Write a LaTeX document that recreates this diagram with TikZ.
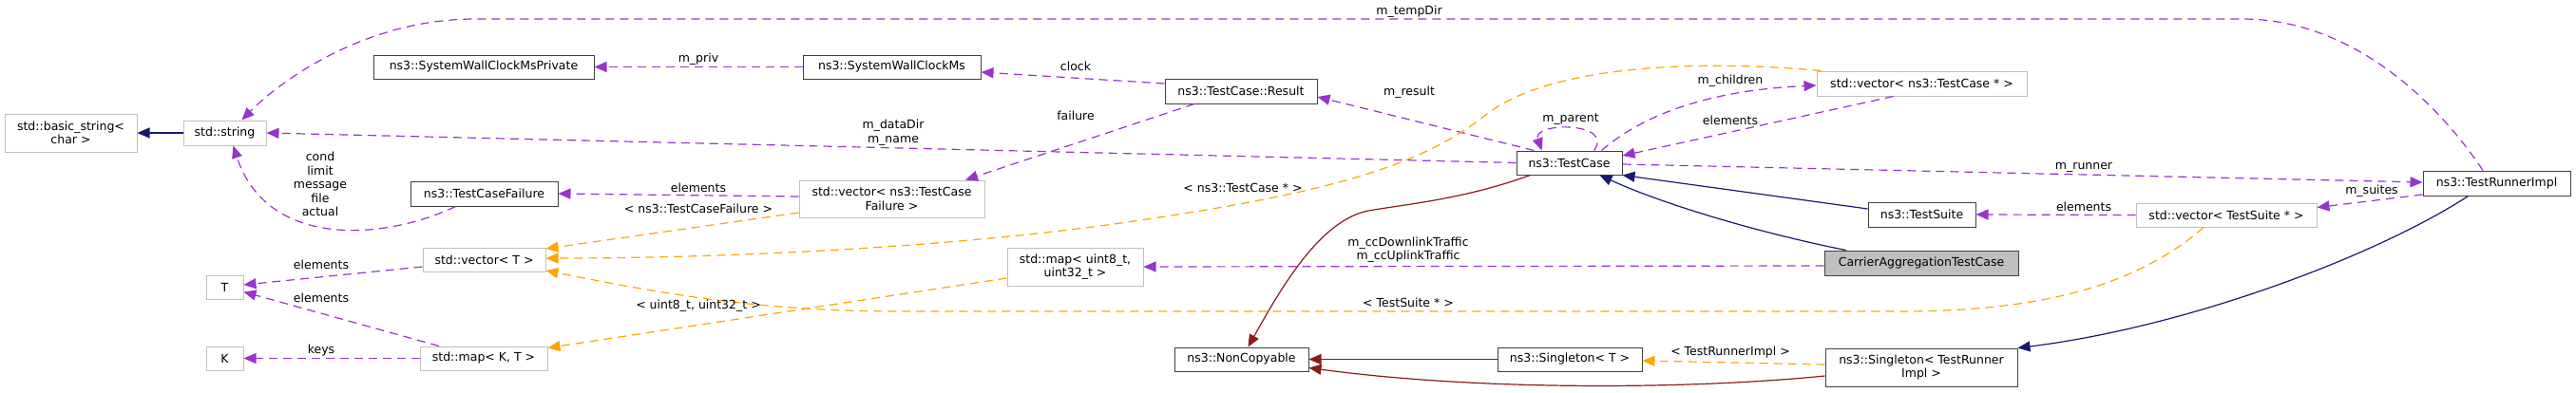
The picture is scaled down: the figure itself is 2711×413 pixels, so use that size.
\documentclass[tikz,border=0pt]{standalone}
\usepackage{fontspec}
\setmainfont{DejaVu Sans}
\usetikzlibrary{arrows.meta}
\definecolor{useclr}{HTML}{9A32CD}
\definecolor{tplclr}{HTML}{FFA500}
\definecolor{pubclr}{HTML}{191970}
\definecolor{privclr}{HTML}{8B1A1A}
\definecolor{boxgray}{HTML}{BFBFBF}
\definecolor{boxline}{HTML}{404040}
\tikzset{
  cls/.style={draw=boxline, line width=1pt, inner sep=0pt, align=center,
    font=\fontsize{12.5}{14.5}\selectfont},
  ext/.style={cls, draw=boxgray},
  cur/.style={cls, fill=boxgray},
  lbl/.style={inner sep=0pt, align=center, font=\fontsize{12.5}{14.5}\selectfont},
  usage/.style={draw=useclr, line width=1.2pt, dash pattern=on 9pt off 6pt,
    -{Triangle[length=13pt,width=11pt]}},
  tmpl/.style={usage, draw=tplclr},
  pub/.style={draw=pubclr, line width=1.2pt, -{Triangle[length=13pt,width=11pt]}},
  priv/.style={pub, draw=privclr},
}
\begin{document}
\begin{tikzpicture}[x=1pt, y=-1pt]
   \useasboundingbox (0,0) rectangle (2711,413);
   % classes
   \node (bstr)  [ext, minimum width=139pt, minimum height=40pt] at (74.5,140) {std::basic\_string<\\char >};
   \node (str)   [ext, minimum width=87pt, minimum height=26pt] at (236.5,140) {std::string};
   \node (swcp)  [cls, minimum width=232pt, minimum height=25pt] at (509,70.5) {ns3::SystemWallClockMsPrivate};
   \node (tcf)   [cls, minimum width=155pt, minimum height=26pt] at (509.5,204) {ns3::TestCaseFailure};
   \node (vecT)  [ext, minimum width=129pt, minimum height=25pt] at (509.5,273.5) {std::vector< T >};
   \node (T)     [ext, minimum width=39pt, minimum height=25pt] at (236.5,302.5) {T};
   \node (K)     [ext, minimum width=39pt, minimum height=25pt] at (236.5,377.5) {K};
   \node (mapKT) [ext, minimum width=134pt, minimum height=25pt] at (509,377.5) {std::map< K, T >};
   \node (swc)   [cls, minimum width=187pt, minimum height=25pt] at (938.5,70.5) {ns3::SystemWallClockMs};
   \node (vtcf)  [ext, minimum width=195pt, minimum height=39pt] at (938.5,209.5) {std::vector< ns3::TestCase\\Failure >};
   \node (res)   [cls, minimum width=160pt, minimum height=26pt] at (1306,96) {ns3::TestCase::Result};
   \node (mapU)  [ext, minimum width=143pt, minimum height=40pt] at (1131.5,281) {std::map< uint8\_t,\\uint32\_t >};
   \node (nc)    [cls, minimum width=141pt, minimum height=25pt] at (1306.5,378.5) {ns3::NonCopyable};
   \node (tc)    [cls, minimum width=111pt, minimum height=25pt] at (1651.5,171.5) {ns3::TestCase};
   \node (sgT)   [cls, minimum width=152pt, minimum height=25pt] at (1652,378.5) {ns3::Singleton< T >};
   \node (vtc)   [ext, minimum width=221pt, minimum height=26pt] at (2022.5,88) {std::vector< ns3::TestCase * >};
   \node (ts)    [cls, minimum width=113pt, minimum height=26pt] at (2022.5,226) {ns3::TestSuite};
   \node (catc)  [cur, minimum width=204pt, minimum height=26pt] at (2022,277) {CarrierAggregationTestCase};
   \node (sgR)   [cls, minimum width=202pt, minimum height=40pt] at (2022,387) {ns3::Singleton< TestRunner\\Impl >};
   \node (tri)   [cls, minimum width=155pt, minimum height=26pt] at (2627.5,193) {ns3::TestRunnerImpl};
   \node (vts)   [ext, minimum width=190pt, minimum height=25pt] at (2343,226.5) {std::vector< TestSuite * >};
   % inheritance
   \draw [pub] (str.west) -- (bstr.east);
   \draw [pub] ([yshift=6pt]ts.west) -- (tc.south east);
   \draw [pub] ([xshift=23pt]catc.north west) .. controls (1850,245) and (1750,215) .. ([xshift=32pt]tc.south);
   \draw [pub] ([xshift=-30pt]tri.south) .. controls (2500,270) and (2300,345) .. (sgR.north east);
   \draw [priv] ([xshift=-41pt]tc.south) .. controls (1540,210) and (1480,215) .. (1440,222)
      .. controls (1390,232) and (1350,300) .. ([xshift=7pt]nc.north);
   \draw [priv] (sgT.west) -- (nc.east);
   \draw [priv] ([yshift=-9pt]sgR.west) .. controls (1780,410) and (1560,412) .. ([yshift=-9pt]nc.east);
   % members
   \draw [usage] ([xshift=-14.5pt]tri.north) .. controls (2560,100) and (2470,20) .. (2360,20)
      -- (500,20) .. controls (380,20) and (290,90) .. ([xshift=18pt]str.north);
   \draw [usage] (swc.west) -- (swcp.east);
   \draw [usage] ([yshift=8pt]res.west) -- ([yshift=-5.5pt]swc.east);
   \draw [usage] ([xshift=-49pt]res.south) -- ([xshift=77.5pt]vtcf.north);
   \draw [usage] (tc.west) -- (str.east);
   \draw [usage] ([yshift=2.5pt]vtcf.west) -- (tcf.east);
   \draw [usage] ([xshift=-30pt]tcf.south) .. controls (400,255) and (280,260) .. ([xshift=9pt]str.south);
   \draw [usage] ([yshift=-7.5pt]vecT.west) -- ([yshift=2.5pt]T.east);
   \draw [usage] ([xshift=-47pt]mapKT.north) -- ([yshift=-5pt]T.east);
   \draw [usage] (mapKT.west) -- (K.east);
   \draw [usage] ([xshift=-37pt]tc.north) -- ([yshift=-6pt]res.east);
   \draw [usage] ([xshift=26pt]tc.north) .. controls (1700,128) and (1612,128) .. ([xshift=-29pt]tc.north);
   \draw [usage] ([xshift=34pt]tc.north) .. controls (1730,120) and (1800,95) .. ([yshift=-2pt]vtc.west);
   \draw [usage] ([xshift=-30pt]vtc.south) -- ([yshift=7.5pt]tc.east);
   \draw [usage] ([yshift=-1.5pt]tc.east) -- ([yshift=1pt]tri.west);
   \draw [usage] ([yshift=-12pt]tri.west) -- ([yshift=8pt]vts.east);
   \draw [usage] (vts.west) -- (ts.east);
   \draw [usage] ([yshift=-3pt]catc.west) -- (mapU.east);
   % templates
   \draw [tmpl] ([yshift=-14.5pt]vtcf.west) -- ([yshift=11.5pt]vecT.east);
   \draw [tmpl] ([xshift=5pt]vtc.north west) .. controls (1780,62) and (1630,70) .. (1565,120)
      .. controls (1490,180) and (1380,205) .. (1200,232)
      .. controls (1000,262) and (750,272) .. ([yshift=1.5pt]vecT.east);
   \draw [tmpl] ([xshift=-24pt]vts.south) .. controls (2250,300) and (2150,328) .. (2000,328)
      -- (950,328) .. controls (800,328) and (700,310) .. ([yshift=-11.5pt]vecT.east);
   \draw [tmpl] ([yshift=-12pt]mapU.west) -- ([yshift=11pt]mapKT.east);
   \draw [tmpl] ([yshift=3pt]sgR.west) -- ([yshift=-1.5pt]sgT.east);
   % labels
   \node (lTempDir)  [lbl] at (1483,12) {m\_tempDir};
   \node (lPriv)     [lbl] at (735,62) {m\_priv};
   \node (lClock)    [lbl] at (1132,70) {clock};
   \node (lFailure)  [lbl] at (1132,122) {failure};
   \node (lDataDir)  [lbl] at (940,139.5) {m\_dataDir\\m\_name};
   \node (lCond)     [lbl] at (337,194) {cond\\limit\\message\\file\\actual};
   \node (lElemTcf)  [lbl] at (735,198) {elements};
   \node (lTplTcf)   [lbl] at (735,220) {< ns3::TestCaseFailure >};
   \node (lTplTc)    [lbl] at (1308,198) {< ns3::TestCase * >};
   \node (lTplU)     [lbl] at (735,322) {< uint8\_t, uint32\_t >};
   \node (lElemVecT) [lbl] at (338,279) {elements};
   \node (lElemMap)  [lbl] at (338,314) {elements};
   \node (lKeys)     [lbl] at (338,369) {keys};
   \node (lResult)   [lbl] at (1483,97) {m\_result};
   \node (lParent)   [lbl] at (1653,126) {m\_parent};
   \node (lChildren) [lbl] at (1821,85) {m\_children};
   \node (lElemTc)   [lbl] at (1821,127) {elements};
   \node (lTraffic)  [lbl] at (1482,263) {m\_ccDownlinkTraffic\\m\_ccUplinkTraffic};
   \node (lTplTs)    [lbl] at (1482,319) {< TestSuite * >};
   \node (lTplTri)   [lbl] at (1821,371) {< TestRunnerImpl >};
   \node (lRunner)   [lbl] at (2193,176) {m\_runner};
   \node (lSuites)   [lbl] at (2496,201) {m\_suites};
   \node (lElemTs)   [lbl] at (2193,218) {elements};
\end{tikzpicture}
\end{document}
